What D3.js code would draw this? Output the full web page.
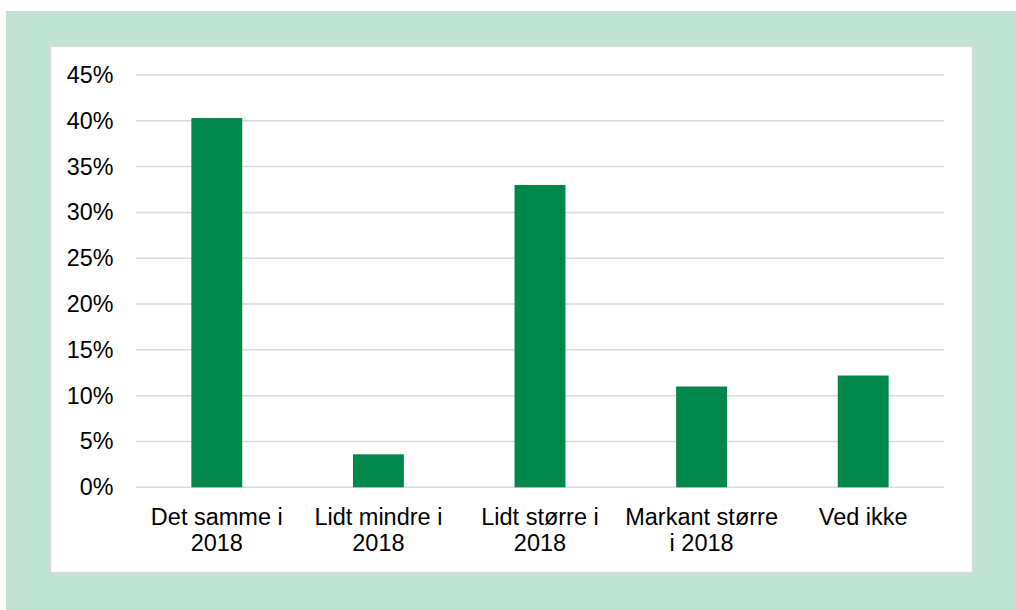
<!DOCTYPE html>
<html>
<head>
<meta charset="utf-8">
<script src="https://cdn.jsdelivr.net/npm/d3@7/dist/d3.min.js"></script>
<style>
  html, body { margin: 0; padding: 0; background: #ffffff; }
  svg { display: block; }
  text { font-family: "Liberation Sans", Arial, sans-serif; fill: #000; }
</style>
</head>
<body>
<svg id="chart" width="1016" height="610"></svg>
<script>
const categories = [["Det samme i", "2018"], ["Lidt mindre i", "2018"], ["Lidt større i", "2018"], ["Markant større", "i 2018"], ["Ved ikke"]];
const values = [40.3, 3.6, 33.0, 11.0, 12.2];
const yTicks = [0, 5, 10, 15, 20, 25, 30, 35, 40, 45];

const svg = d3.select("#chart");

// outer green frame
svg.append("rect").attr("x", 6).attr("y", 11).attr("width", 1010).attr("height", 599).attr("fill", "#c0e2d3");
// white panel
svg.append("rect").attr("x", 50.5).attr("y", 46.5).attr("width", 922).attr("height", 526)
  .attr("fill", "#ffffff").attr("stroke", "#d9d9d9").attr("stroke-width", 1.5);

const x0 = 136, x1 = 944, yTop = 75, yBot = 487.3;
const x = d3.scaleBand().domain(d3.range(categories.length)).range([x0, x1])
  .paddingInner(0.685).paddingOuter(0.3425);
const y = d3.scaleLinear().domain([0, 45]).range([yBot, yTop]);

// gridlines
svg.append("g").selectAll("line").data(yTicks).join("line")
  .attr("x1", x0).attr("x2", x1)
  .attr("y1", d => y(d)).attr("y2", d => y(d))
  .attr("stroke", "#d9d9d9").attr("stroke-width", 1.5);

// y axis labels
const yAxis = d3.axisLeft(y).tickValues(yTicks).tickFormat(d => d + "%").tickSize(0).tickPadding(0);
const gy = svg.append("g").attr("transform", "translate(113.5,0)").call(yAxis);
gy.select(".domain").remove();
gy.selectAll("text").attr("font-size", "23.3px").attr("font-family", "Liberation Sans, Arial, sans-serif").attr("fill", "#000");

// bars
svg.append("g").selectAll("rect").data(values).join("rect")
  .attr("x", (d, i) => x(i)).attr("width", x.bandwidth())
  .attr("y", d => y(d)).attr("height", d => y(0) - y(d))
  .attr("fill", "#00874a");

// x labels
const gx = svg.append("g");
categories.forEach((lines, i) => {
  const t = gx.append("text").attr("text-anchor", "middle").attr("font-size", "23.5px")
    .attr("x", x(i) + x.bandwidth() / 2).attr("y", 525);
  lines.forEach((ln, j) => {
    t.append("tspan").attr("x", x(i) + x.bandwidth() / 2).attr("y", 525 + j * 25.5).text(ln);
  });
});
</script>
</body>
</html>
